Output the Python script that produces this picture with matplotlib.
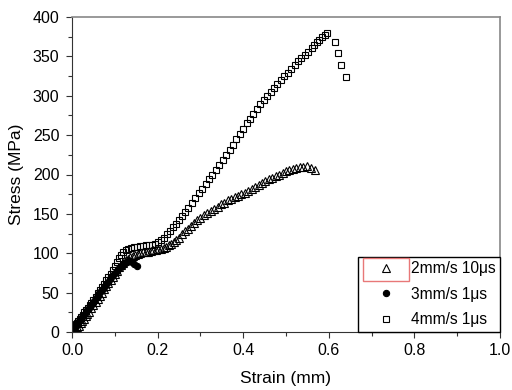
import matplotlib
matplotlib.use("Agg")
import matplotlib.pyplot as plt
from matplotlib.patches import Rectangle

plt.rcParams['font.family'] = ['Liberation Sans', 'DejaVu Sans']

# 2mm/s 10us (open triangles)
tri_x = [0.004, 0.008, 0.012, 0.016, 0.020, 0.024, 0.028, 0.032, 0.036, 0.040, 0.045, 0.050,
         0.055, 0.060, 0.065, 0.070, 0.075, 0.080, 0.085, 0.090, 0.095, 0.100, 0.105, 0.110,
         0.115, 0.120, 0.125, 0.130, 0.136, 0.142, 0.148, 0.154, 0.160, 0.166, 0.172, 0.178,
         0.184, 0.190, 0.196, 0.202, 0.208, 0.214, 0.220, 0.226, 0.232, 0.238, 0.244, 0.250,
         0.257, 0.264, 0.271, 0.278, 0.285, 0.292, 0.300, 0.308, 0.316, 0.324, 0.332, 0.340,
         0.348, 0.356, 0.364, 0.372, 0.380, 0.388, 0.396, 0.404, 0.412, 0.420, 0.428, 0.436,
         0.444, 0.452, 0.460, 0.468, 0.476, 0.484, 0.492, 0.500, 0.508, 0.516, 0.524, 0.532,
         0.540, 0.549, 0.558, 0.568]
tri_y = [2, 4, 6, 8, 11, 14, 17, 20, 23, 26, 30, 34,
         38, 42, 46, 50, 54, 58, 62, 66, 70, 74, 78, 82,
         85, 88, 91, 93, 95, 97, 98, 99, 100, 101, 102, 102,
         103, 104, 104, 105, 106, 107, 108, 110, 112, 114, 117, 120,
         124, 128, 131, 135, 139, 142, 145, 148, 151, 154, 156, 159,
         162, 164, 167, 169, 171, 173, 175, 177, 179, 181, 184, 187,
         189, 192, 194, 196, 198, 200, 202, 204, 206, 207, 208, 209,
         210, 211, 208, 206]

# 3mm/s 1us (filled circles)
cir_x = [0.002, 0.005, 0.008, 0.011, 0.014, 0.017, 0.020, 0.024, 0.028, 0.032, 0.036, 0.040,
         0.044, 0.048, 0.052, 0.056, 0.060, 0.064, 0.068, 0.072, 0.076, 0.080, 0.084, 0.088,
         0.092, 0.096, 0.100, 0.104, 0.108, 0.112, 0.116, 0.120, 0.124, 0.128, 0.132, 0.136,
         0.140, 0.146, 0.152]
cir_y = [4, 6, 8, 10, 12, 14, 16, 19, 22, 25, 28, 31,
         34, 37, 40, 43, 46, 49, 52, 55, 58, 61, 64, 67,
         70, 72, 75, 77, 80, 82, 84, 86, 88, 89, 90, 90,
         89, 86, 84]

# 4mm/s 1us (open squares)
sq_x = [0.003, 0.006, 0.009, 0.012, 0.015, 0.018, 0.021, 0.025, 0.029, 0.033, 0.037, 0.041,
        0.045, 0.050, 0.055, 0.060, 0.065, 0.070, 0.075, 0.080, 0.085, 0.090, 0.095, 0.100,
        0.105, 0.110, 0.115, 0.120, 0.126, 0.132, 0.138, 0.145, 0.152, 0.159, 0.166, 0.173,
        0.180, 0.187, 0.194, 0.201, 0.208, 0.215, 0.222, 0.229, 0.236, 0.243, 0.250, 0.257,
        0.264, 0.272, 0.280, 0.288, 0.296, 0.304, 0.312, 0.320, 0.328, 0.336, 0.344, 0.352,
        0.360, 0.368, 0.376, 0.384, 0.392, 0.400, 0.408, 0.416, 0.424, 0.432, 0.440, 0.448,
        0.456, 0.464, 0.472, 0.480, 0.488, 0.496, 0.504, 0.512, 0.520, 0.528, 0.536, 0.544,
        0.552, 0.560, 0.566, 0.572, 0.578, 0.584, 0.590, 0.596, 0.614, 0.621, 0.628, 0.640]
sq_y = [6, 8, 10, 12, 14, 17, 19, 22, 25, 28, 31, 34,
        37, 41, 45, 49, 53, 57, 61, 66, 70, 74, 79, 84,
        89, 94, 98, 101, 104, 106, 107, 108, 108, 109, 109, 110,
        110, 111, 112, 114, 117, 120, 124, 128, 133, 137, 142, 147,
        152, 158, 164, 170, 176, 182, 188, 194, 200, 206, 212, 218,
        225, 231, 238, 245, 252, 258, 265, 271, 277, 283, 289, 295,
        300, 305, 310, 315, 320, 325, 329, 334, 339, 344, 348, 352,
        356, 361, 364, 368, 371, 374, 377, 380, 368, 354, 339, 324]

labels = ['2mm/s 10\u03bcs', '3mm/s 1\u03bcs', '4mm/s 1\u03bcs']
x_ticks = [0.0, 0.2, 0.4, 0.6, 0.8, 1.0]
y_ticks = [0, 50, 100, 150, 200, 250, 300, 350, 400]

fig = plt.figure(figsize=(5.12, 3.90), dpi=100)
ax = fig.add_axes([72/512, 1-332/390, 428/512, 315/390])

ax.plot(tri_x, tri_y, linestyle='none', marker='^', markersize=5.5, markerfacecolor='none',
        markeredgecolor='black', markeredgewidth=0.8, label=labels[0])
ax.plot(cir_x, cir_y, linestyle='none', marker='o', markersize=4.5, markerfacecolor='black',
        markeredgecolor='black', markeredgewidth=0.8, label=labels[1])
ax.plot(sq_x, sq_y, linestyle='none', marker='s', markersize=5, markerfacecolor='none',
        markeredgecolor='black', markeredgewidth=0.8, label=labels[2])

ax.set_xlim(0, 1.0)
ax.set_ylim(0, 400)
ax.set_xticks(x_ticks)
ax.set_xticklabels(['%.1f' % v for v in x_ticks])
ax.set_yticks(y_ticks)
ax.set_xticks([0.1, 0.3, 0.5, 0.7, 0.9], minor=True)
ax.set_yticks([25, 75, 125, 175, 225, 275, 325, 375], minor=True)
ax.tick_params(which='both', direction='out', labelsize=11.5, width=0.8, color='#333333')
ax.tick_params(which='major', length=4)
ax.tick_params(axis='y', which='major', pad=5)
ax.tick_params(axis='x', which='major', pad=4)
ax.tick_params(which='minor', length=3)
for side in ['left', 'bottom']:
    ax.spines[side].set_color('#333333')
for side in ['top', 'right']:
    ax.spines[side].set_color('#888888')
    ax.spines[side].set_linewidth(1.2)

ax.set_xlabel('Strain (mm)', fontsize=12.5, labelpad=9)
ax.set_ylabel('Stress (MPa)', fontsize=12.5, labelpad=6)

leg = ax.legend(loc='lower right', borderaxespad=0, fancybox=False, edgecolor='black',
                framealpha=1, fontsize=11.2, handletextpad=0.1, markerscale=1.0,
                borderpad=0.3, labelspacing=0.68, handlelength=3.0)
leg.get_frame().set_linewidth(1.0)

fig.patches.append(Rectangle((363/512, 1-281/390), 46/512, 23/390, transform=fig.transFigure,
                             fill=False, edgecolor='#e87878', linewidth=1.0))

fig.savefig('out.png', dpi=100)
